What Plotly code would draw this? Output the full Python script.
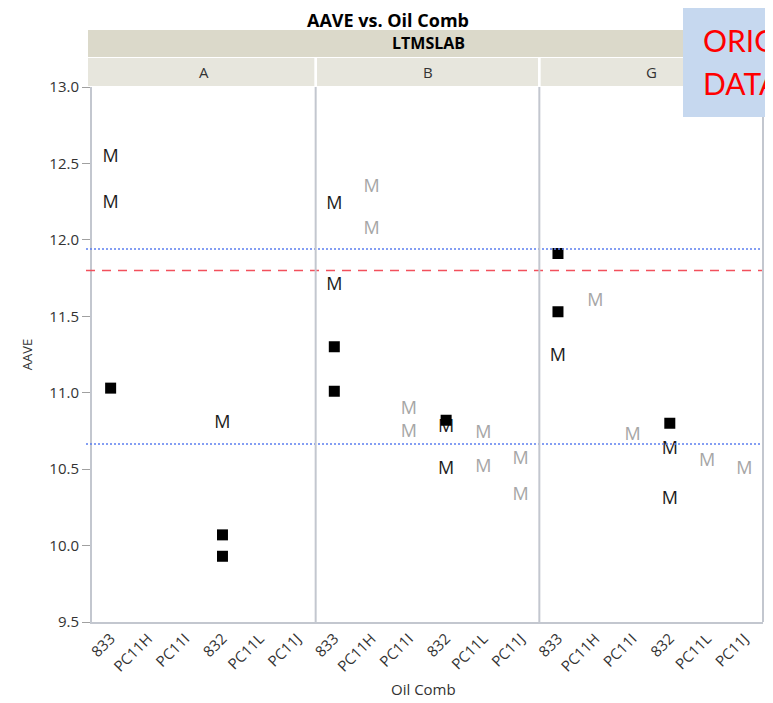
import plotly.graph_objects as go

# ---------------- data ----------------
categories = ["833", "PC11H", "PC11I", "832", "PC11L", "PC11J"]
labs = ["A", "B", "G"]

# "M" character markers
m_lab = ["A", "A", "A",
         "B", "B", "B", "B", "B", "B", "B", "B", "B", "B", "B", "B",
         "G", "G", "G", "G", "G", "G", "G"]
m_cat = ["833", "833", "832",
         "833", "833", "PC11H", "PC11H", "PC11I", "PC11I", "832", "832", "PC11L", "PC11L", "PC11J", "PC11J",
         "833", "PC11H", "PC11I", "832", "832", "PC11L", "PC11J"]
m_val = [12.54, 12.24, 10.80,
         12.23, 11.70, 12.34, 12.07, 10.89, 10.74, 10.77, 10.50, 10.73, 10.51, 10.56, 10.33,
         11.24, 11.60, 10.72, 10.63, 10.30, 10.55, 10.50]

# filled square markers
sq_lab = ["A", "A", "A", "B", "B", "B", "G", "G", "G"]
sq_cat = ["833", "832", "832", "833", "833", "832", "833", "833", "832"]
sq_val = [11.03, 10.07, 9.93, 11.30, 11.01, 10.82, 11.91, 11.53, 10.80]

# reference lines
ref_upper = 11.94
ref_mean = 11.80
ref_lower = 10.665

y_ticks = [9.5, 10.0, 10.5, 11.0, 11.5, 12.0, 12.5, 13.0]

# ---------------- styling ----------------
FONT = "Open Sans"
OFF = 8                      # page body margin of the browser
WIN_W, WIN_H = 773, 703
W, H = WIN_W - OFF, WIN_H - OFF
PLOT_L, PLOT_R, PLOT_T, PLOT_B = 92, 763, 87, 622   # window pixels
L, T = PLOT_L - OFF, PLOT_T - OFF
R, B = W - (PLOT_R - OFF), H - (PLOT_B - OFF)
PH = PLOT_B - PLOT_T
PW = PLOT_R - PLOT_L


def py(px):  # window pixel y -> paper y
    return (PLOT_B - px) / PH


def pxx(px):  # window pixel x -> paper x
    return (px - PLOT_L) / PW


dark_cats = {"833", "832"}
axis_names = {"A": "x", "B": "x2", "G": "x3"}

fig = go.Figure()

for lab in labs:
    xs = [c for l, c in zip(m_lab, m_cat) if l == lab]
    ys = [v for l, v in zip(m_lab, m_val) if l == lab]
    cols = ["#1c1c1c" if c in dark_cats else "#a6a6a6" for c in xs]
    fig.add_trace(go.Scatter(
        x=xs, y=ys, mode="text", text=["M"] * len(xs),
        textposition="middle center",
        textfont=dict(family=FONT, size=18, color=cols),
        xaxis=axis_names[lab], yaxis="y", showlegend=False, hoverinfo="x+y"))
    sx = [c for l, c in zip(sq_lab, sq_cat) if l == lab]
    sy = [v for l, v in zip(sq_lab, sq_val) if l == lab]
    fig.add_trace(go.Scatter(
        x=sx, y=sy, mode="markers",
        marker=dict(symbol="square", size=11, color="black"),
        xaxis=axis_names[lab], yaxis="y", showlegend=False))

xaxis_common = dict(
    type="category", categoryorder="array", categoryarray=categories,
    range=[-0.5, 5.5], tickangle=-45, showgrid=False, zeroline=False,
    showline=True, linecolor="#c3c7cf", linewidth=2, ticks="",
    tickfont=dict(family=FONT, size=15, color="#333333"), anchor="y",
)
fig.update_layout(
    width=W, height=H,
    margin=dict(l=L, r=R, t=T, b=B),
    plot_bgcolor="white", paper_bgcolor="white",
    xaxis=dict(domain=[0, 1 / 3], **xaxis_common),
    xaxis2=dict(domain=[1 / 3, 2 / 3], **xaxis_common),
    xaxis3=dict(domain=[2 / 3, 1], **xaxis_common),
    yaxis=dict(
        range=[9.5, 13.0], tickvals=y_ticks, tickformat=".1f",
        showgrid=False, zeroline=False, showline=True, linecolor="#c3c7cf", linewidth=2,
        ticks="outside", ticklen=8, tickcolor="#a0a0a0", tickwidth=1,
        tickfont=dict(family=FONT, size=15, color="#333333"),
        title=dict(text="AAVE", font=dict(family=FONT, size=13, color="#333333"), standoff=14),
    ),
    showlegend=False,
)

shapes = []
# reference lines
shapes.append(dict(type="line", xref="paper", yref="y", x0=pxx(86), x1=1, y0=ref_upper, y1=ref_upper,
                   line=dict(color="#5c7ff0", width=1.5, dash="2px,2px")))
shapes.append(dict(type="line", xref="paper", yref="y", x0=pxx(86), x1=1, y0=ref_lower, y1=ref_lower,
                   line=dict(color="#5c7ff0", width=1.5, dash="2px,2px")))
shapes.append(dict(type="line", xref="paper", yref="y", x0=pxx(86), x1=1, y0=ref_mean, y1=ref_mean,
                   line=dict(color="#f2505c", width=1.5, dash="9px,7px")))
# panel separators
for xb in [1 / 3, 2 / 3, 1]:
    shapes.append(dict(type="line", xref="paper", yref="paper", x0=xb, x1=xb, y0=0, y1=1,
                       line=dict(color="#c3c7cf", width=2)))
# header bands
shapes.append(dict(type="rect", xref="paper", yref="paper", x0=pxx(88), x1=1.0, y0=py(57), y1=py(30),
                   fillcolor="#dbd9ca", line=dict(width=0), layer="below"))
for i in range(3):
    x0 = i / 3 + 0.002 if i else pxx(88)
    x1 = (i + 1) / 3 - 0.002 if i < 2 else 1.0
    shapes.append(dict(type="rect", xref="paper", yref="paper", x0=x0, x1=x1, y0=py(86), y1=py(58),
                       fillcolor="#e7e6dd", line=dict(width=0), layer="below"))
# "ORIGINAL DATA" overlay box
shapes.append(dict(type="rect", xref="paper", yref="paper", x0=pxx(683), x1=pxx(790), y0=py(117), y1=py(7),
                   fillcolor="#c6d8ef", line=dict(width=0), layer="above"))

annotations = [
    dict(text="<b>AAVE vs. Oil Comb</b>", xref="paper", yref="paper", x=pxx(388), y=py(20),
         showarrow=False, font=dict(family=FONT, size=18, color="black"), xanchor="center", yanchor="middle"),
    dict(text="<b>LTMSLAB</b>", xref="paper", yref="paper", x=pxx(428), y=py(43),
         showarrow=False, font=dict(family=FONT, size=16, color="black"), xanchor="center", yanchor="middle"),
    dict(text="Oil Comb", xref="paper", yref="paper", x=pxx(423), y=py(689),
         showarrow=False, font=dict(family=FONT, size=15, color="#333333"), xanchor="center", yanchor="middle"),
    dict(text="ORIGINAL", xref="paper", yref="paper", x=pxx(701), y=py(40),
         showarrow=False, font=dict(family="Lato", size=30, color="#ff0000"), xanchor="left", yanchor="middle"),
    dict(text="DATA", xref="paper", yref="paper", x=pxx(701), y=py(83),
         showarrow=False, font=dict(family="Lato", size=30, color="#ff0000"), xanchor="left", yanchor="middle"),
]
for i, lab in enumerate(labs):
    annotations.append(dict(text=lab, xref="paper", yref="paper", x=(i + 0.5) / 3, y=py(72),
                            showarrow=False, font=dict(family=FONT, size=15, color="#333333"),
                            xanchor="center", yanchor="middle"))

fig.update_layout(shapes=shapes, annotations=annotations)
fig.write_html("out.html")
